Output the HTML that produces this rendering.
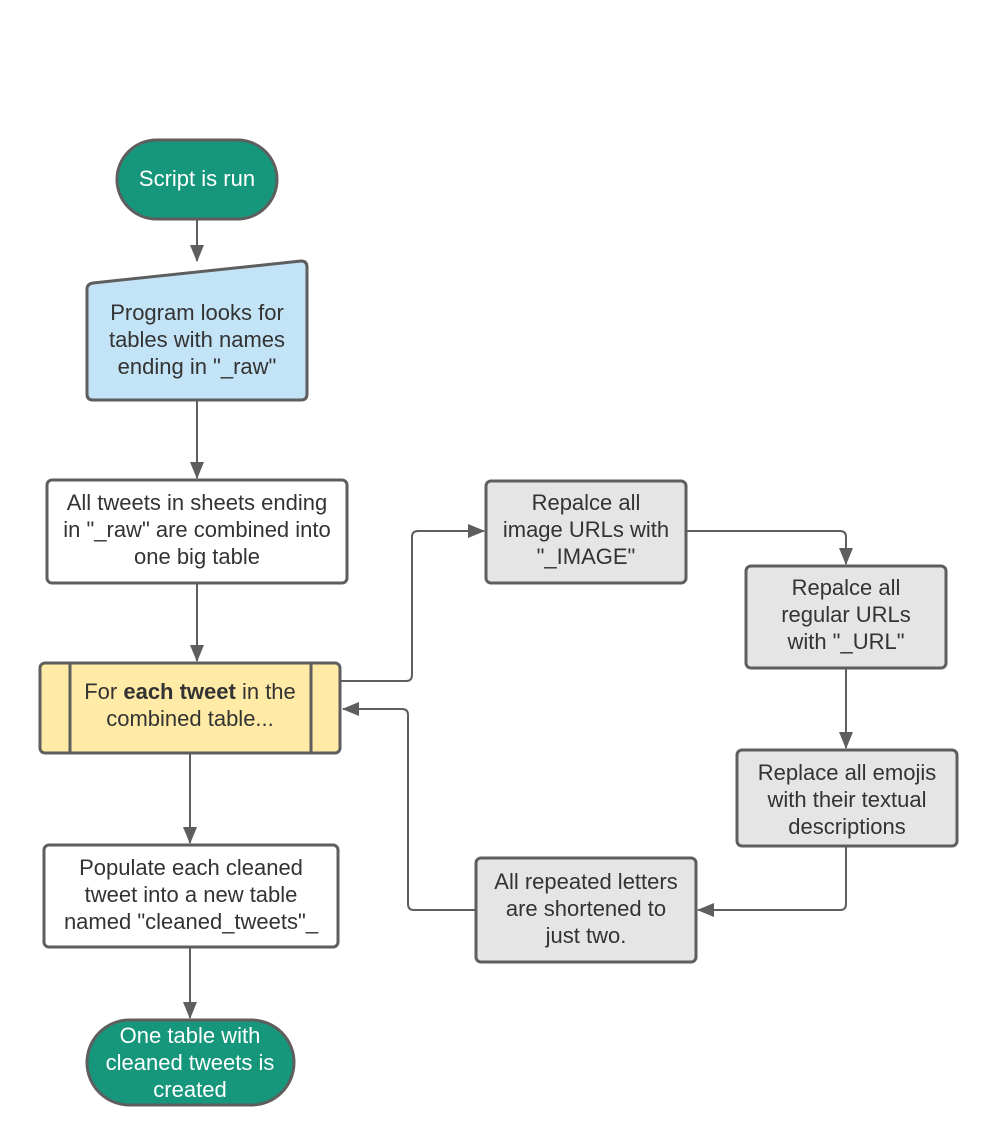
<!DOCTYPE html>
<html><head><style>body{margin:0;background:#fff}svg{display:block}text{font-family:"Liberation Sans",sans-serif;font-size:22px;fill:#333;text-anchor:middle}</style></head>
<body>
<svg width="996" height="1145" viewBox="0 0 996 1145">
<defs><marker id="b" markerWidth="18" markerHeight="14" refX="16" refY="7" orient="auto" markerUnits="userSpaceOnUse"><path d="M0,0 L17,7 L0,14 z" fill="#5e5e5e"/></marker></defs>
<g stroke="#5e5e5e" stroke-width="2" fill="none" marker-end="url(#b)">
<path d="M197,219 V261"/>
<path d="M197,400 V478"/>
<path d="M197,583 V661"/>
<path d="M340,681 H406 Q412,681 412,675 V537 Q412,531 418,531 H484"/>
<path d="M686,531 H840 Q846,531 846,537 V564"/>
<path d="M846,668 V748"/>
<path d="M846,846 V904 Q846,910 840,910 H698"/>
<path d="M476,910 H414 Q408,910 408,904 V715 Q408,709 402,709 H343"/>
<path d="M190,753 V843"/>
<path d="M190,947 V1018"/>
</g>
<g stroke="#5e5e5e" stroke-width="3">
<rect x="117" y="140" width="160" height="79" rx="39.5" fill="#16967a"/>
<path d="M93,283 L301,261 Q307,261 307,267 V394 Q307,400 301,400 H93 Q87,400 87,394 V289 Q87,284 93,283 z" fill="#c3e3f6"/>
<rect x="47" y="480" width="300" height="103" rx="5" fill="#fff"/>
<rect x="40" y="663" width="300" height="90" rx="5" fill="#ffeaa6"/>
<line x1="70" y1="663" x2="70" y2="753"/><line x1="311" y1="663" x2="311" y2="753"/>
<rect x="486" y="481" width="200" height="102" rx="5" fill="#e5e5e5"/>
<rect x="746" y="566" width="200" height="102" rx="5" fill="#e5e5e5"/>
<rect x="737" y="750" width="220" height="96" rx="5" fill="#e5e5e5"/>
<rect x="476" y="858" width="220" height="104" rx="5" fill="#e5e5e5"/>
<rect x="44" y="845" width="294" height="102" rx="5" fill="#fff"/>
<rect x="87" y="1020" width="207" height="85" rx="42.5" fill="#16967a"/>
</g>
<text x="197" y="186" style="fill:#fff">Script is run</text>
<text x="197" y="320">Program looks for</text><text x="197" y="347">tables with names</text><text x="197" y="374">ending in "_raw"</text>
<text x="197" y="510">All tweets in sheets ending</text><text x="197" y="537">in "_raw" are combined into</text><text x="197" y="564">one big table</text>
<text x="190" y="699">For <tspan font-weight="bold">each tweet</tspan> in the</text><text x="190" y="726">combined table...</text>
<text x="586" y="510">Repalce all</text><text x="586" y="537">image URLs with</text><text x="586" y="564">"_IMAGE"</text>
<text x="846" y="595">Repalce all</text><text x="846" y="622">regular URLs</text><text x="846" y="649">with "_URL"</text>
<text x="847" y="780">Replace all emojis</text><text x="847" y="807">with their textual</text><text x="847" y="834">descriptions</text>
<text x="586" y="889">All repeated letters</text><text x="586" y="916">are shortened to</text><text x="586" y="943">just two.</text>
<text x="191" y="875">Populate each cleaned</text><text x="191" y="902">tweet into a new table</text><text x="191" y="929">named "cleaned_tweets"_</text>
<text x="190" y="1043" style="fill:#fff">One table with</text><text x="190" y="1070" style="fill:#fff">cleaned tweets is</text><text x="190" y="1097" style="fill:#fff">created</text>
</svg>
</body></html>
